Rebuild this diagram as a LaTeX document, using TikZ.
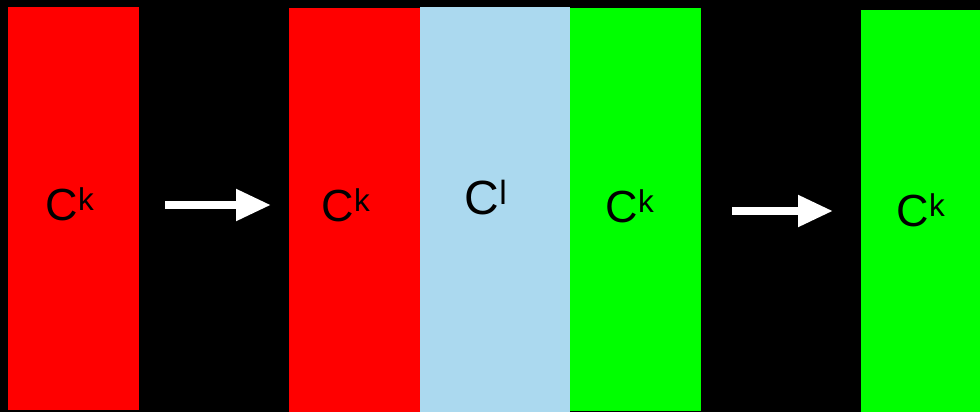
\documentclass[tikz,border=0pt]{standalone}
\usepackage{fontspec}
\setmainfont{Liberation Sans}
\usetikzlibrary{arrows.meta}
\definecolor{cred}{RGB}{255,0,0}
\definecolor{cgreen}{RGB}{0,255,0}
\definecolor{cblue}{RGB}{171,217,239}
\newcommand{\supk}[1]{\raisebox{0.42em}{\fontsize{0.62em}{0.62em}\selectfont #1}}
\tikzset{
  lbl/.style={anchor=base, inner sep=0pt, font=\fontsize{45}{45}\selectfont},
  lblbig/.style={anchor=base, inner sep=0pt, font=\fontsize{48}{48}\selectfont},
  bigarrow/.style={white, line width=8pt, -{Triangle[width=30pt,length=35pt]}},
}
\begin{document}
\begin{tikzpicture}[x=1pt,y=-1pt]
  \fill[black] (0,0) rectangle (980,412);
  \useasboundingbox (0,0) rectangle (980,412);
  % blocks
  \fill[cred] (8,7) rectangle (139,410);
  \fill[cred] (289,8) rectangle (420,412);
  \fill[cblue] (420,7) rectangle (570,412);
  \fill[cgreen] (570,8) rectangle (701,411);
  \fill[cgreen] (861,10) rectangle (980,412);
  % labels
  \node[lbl] (t1) at (70,220) {C\textsuperscript{k}};
  \node[lbl] (t2) at (346,221) {C\textsuperscript{k}};
  \node[lblbig] (t3) at (486,214) {C\textsuperscript{l}};
  \node[lbl] (t4) at (630,222) {C\textsuperscript{k}};
  \node[lbl] (t5) at (921,226) {C\textsuperscript{k}};
  % arrows
  \coordinate (a1s) at (165,205);
  \coordinate (a1e) at (271,205);
  \coordinate (a2s) at (732,211);
  \coordinate (a2e) at (833,211);
  \draw[bigarrow] (a1s) -- (a1e);
  \draw[bigarrow] (a2s) -- (a2e);
\end{tikzpicture}
\end{document}
